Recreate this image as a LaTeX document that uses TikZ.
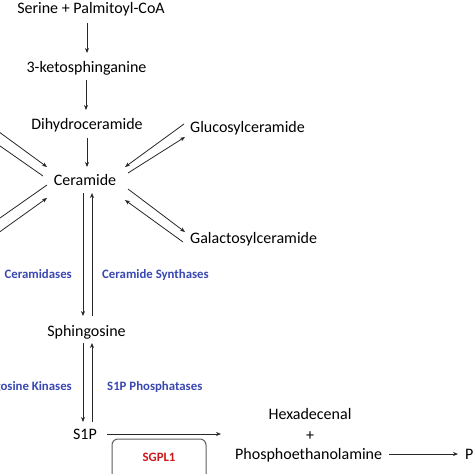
\documentclass[tikz,border=0pt]{standalone}
\usepackage{fontspec}
\setmainfont{Carlito}
\usetikzlibrary{arrows.meta}
\definecolor{enzblue}{RGB}{58,72,178}
\definecolor{enzred}{RGB}{205,25,30}
\definecolor{linegray}{RGB}{40,40,40}
\definecolor{boxgray}{RGB}{95,95,95}
\tikzset{
  mol/.style={anchor=base, inner sep=0pt, font=\fontsize{16}{18}\selectfont, text=black},
  enz/.style={anchor=base, inner sep=0pt, font=\fontsize{12.8}{15}\selectfont\bfseries, text=enzblue},
  arr/.style={draw=linegray, line width=0.8pt, -{Stealth[length=5pt,width=4pt]}},
  plain/.style={draw=linegray, line width=0.8pt},
  enzbox/.style={draw=boxgray, line width=1pt, rounded corners=6pt}
}
\begin{document}
\begin{tikzpicture}[x=1pt,y=-1pt]
\useasboundingbox (0,0) rectangle (474,474);
\clip (0,0) rectangle (474,474);
\fill[white] (0,0) rectangle (474,474);
% molecules
\node[mol] (serine) at (91,13) {Serine + Palmitoyl-CoA};
\node[mol] (keto) at (86.5,72) {3-ketosphinganine};
\node[mol] (dihydro) at (87,129) {Dihydroceramide};
\node[mol] (cer) at (85,185) {Ceramide};
\node[mol, anchor=base west] (gluco) at (190,132) {Glucosylceramide};
\node[mol, anchor=base west] (galacto) at (190,243) {Galactosylceramide};
\node[mol] (sph) at (86.5,336) {Sphingosine};
\node[mol] (s1p) at (85,439) {S1P};
\node[mol] (hexa) at (310,419) {Hexadecenal};
\node[mol] (plus) at (310,440) {+};
\node[mol, anchor=base west] (peth) at (235,459) {Phosphoethanolamine};
\node[mol, anchor=base west] (pe) at (465,459) {PE};
% enzymes
\node[enz, anchor=base east] (cdase) at (72,278) {Ceramidases};
\node[enz, anchor=base west] (cersyn) at (102,278) {Ceramide Synthases};
\node[enz, anchor=base east] (sphk) at (72,390) {Sphingosine Kinases};
\node[enz, anchor=base west] (s1pp) at (107,390) {S1P Phosphatases};
\draw[enzbox] (112,439) rectangle (206,484);
\node[anchor=base, inner sep=0pt, font=\fontsize{12.8}{15}\selectfont\bfseries, text=enzred] (sgpl) at (159,461) {SGPL1};
% main chain
\coordinate (a1s) at (87,23); \coordinate (a1e) at (87,53);
\coordinate (a2s) at (86,80); \coordinate (a2e) at (86,110);
\coordinate (a3s) at (87,138); \coordinate (a3e) at (87,167);
\draw[arr] (a1s) -- (a1e);
\draw[arr] (a2s) -- (a2e);
\draw[arr] (a3s) -- (a3e);
% glucosylceramide pair
\coordinate (g1s) at (184,124); \coordinate (g1e) at (125,167);
\coordinate (g2s) at (128,173); \coordinate (g2e) at (185,137);
\draw[arr] (g1s) -- (g1e);
\draw[arr] (g2s) -- (g2e);
% galactosylceramide pair
\coordinate (h1s) at (128,189); \coordinate (h1e) at (185,232);
\coordinate (h2s) at (183,242); \coordinate (h2e) at (125,200);
\draw[arr] (h1s) -- (h1e);
\draw[arr] (h2s) -- (h2e);
% left pairs (cut by the edge)
\coordinate (l1s) at (-20,118); \coordinate (l1e) at (47,167);
\coordinate (l2s) at (-20,132); \coordinate (l2e) at (43,176);
\draw[arr] (l1s) -- (l1e);
\draw[plain] (l2s) -- (l2e);
\coordinate (l3s) at (-20,232); \coordinate (l3e) at (47,185);
\coordinate (l4s) at (-20,246); \coordinate (l4e) at (47,198);
\draw[plain] (l3s) -- (l3e);
\draw[arr] (l4s) -- (l4e);
% ceramide <-> sphingosine
\coordinate (v1s) at (83,193); \coordinate (v1e) at (83,316);
\coordinate (v2s) at (92,316); \coordinate (v2e) at (92,193);
\draw[arr] (v1s) -- (v1e);
\draw[arr] (v2s) -- (v2e);
% sphingosine <-> S1P
\coordinate (w1s) at (83,343); \coordinate (w1e) at (83,422);
\coordinate (w2s) at (92,422); \coordinate (w2e) at (92,343);
\draw[arr] (w1s) -- (w1e);
\draw[arr] (w2s) -- (w2e);
% S1P -> products
\draw[arr] (s1p.east |- 0,434) ++(10,0) coordinate (sa) -- (221,434) coordinate (sb);
\draw[arr] (peth.east |- 0,454) ++(7,0) coordinate (pa) -- (458,454) coordinate (pb);
\end{tikzpicture}
\end{document}
